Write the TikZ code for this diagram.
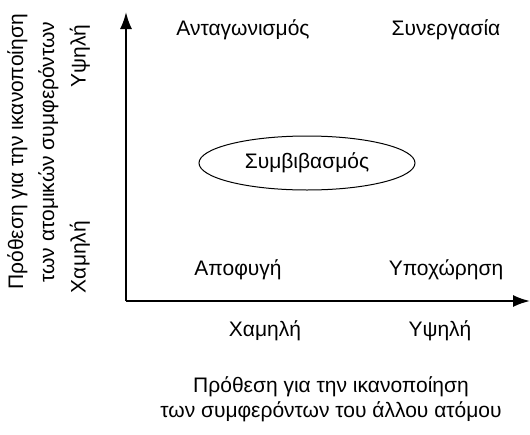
\documentclass[tikz,border=0pt]{standalone}
\usepackage{fontspec}
\setmainfont{Liberation Sans}
\usetikzlibrary{arrows.meta,shapes.geometric}
\begin{document}
\begin{tikzpicture}[x=1pt,y=-1pt,
  lbl/.style={font=\fontsize{21}{25}\selectfont, inner sep=0pt},
  axis/.style={line width=2pt, -{Latex[length=17pt,width=12pt]}}]
\useasboundingbox (0,0) rectangle (530,434);
\coordinate (o) at (126,301);
\coordinate (ytip) at (126,12);
\coordinate (xtip) at (530,301);
\draw[axis] (o) -- (ytip);
\draw[axis] (o) -- (xtip);
\node[lbl] (ant) at (243,30) {Ανταγωνισμός};
\node[lbl] (syn) at (446,30) {Συνεργασία};
\node[lbl, draw, ellipse, line width=1pt, minimum width=216pt, minimum height=54pt] (sym) at (307,163) {Συμβιβασμός};
\node[lbl] (apo) at (238,270) {Αποφυγή};
\node[lbl] (ypo) at (446,270) {Υποχώρηση};
\node[lbl] (xlow) at (265,331) {Χαμηλή};
\node[lbl] (xhigh) at (440,331) {Υψηλή};
\node[lbl, align=center, font=\fontsize{21}{25}\selectfont] (xt) at (331,399) {Πρόθεση για την ικανοποίηση\\των συμφερόντων του άλλου ατόμου};
\node[lbl, rotate=90, align=center, font=\fontsize{21}{31}\selectfont] (yt) at (33,152) {Πρόθεση για την ικανοποίηση\\των ατομικών συμφερόντων};
\node[lbl, rotate=90] (ylow) at (80,257) {Χαμηλή};
\node[lbl, rotate=90] (yhigh) at (80,56) {Υψηλή};
\end{tikzpicture}
\end{document}
